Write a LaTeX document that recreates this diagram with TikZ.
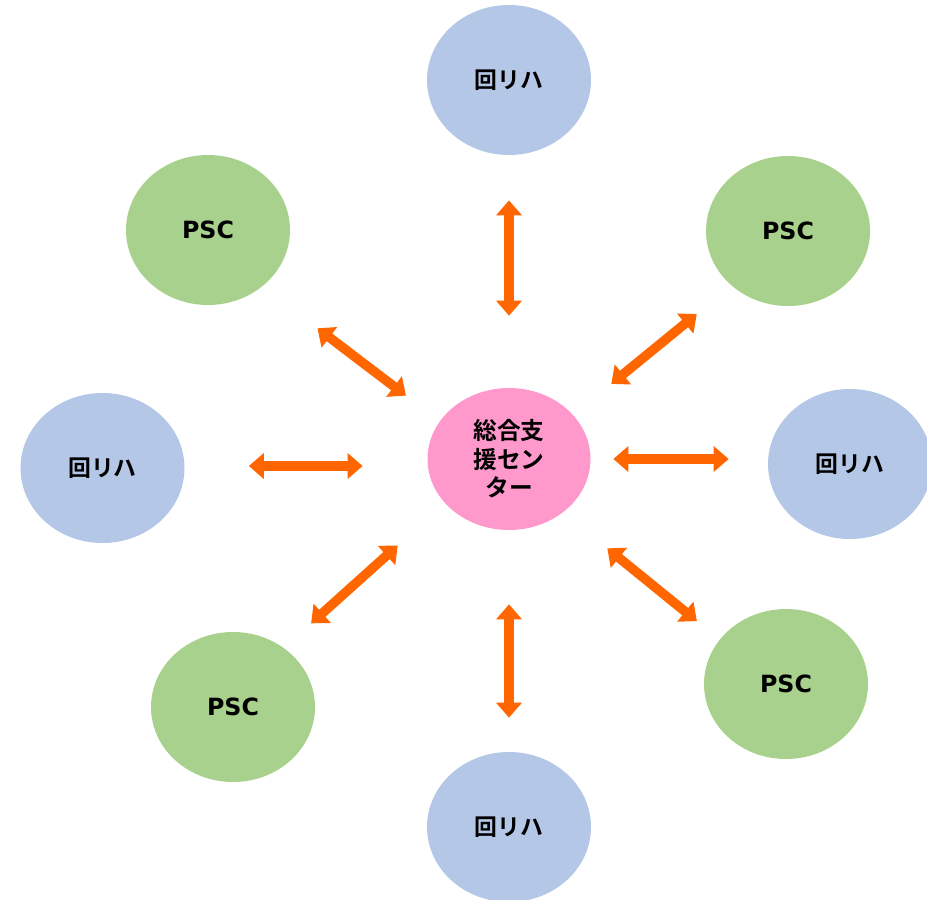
\documentclass[tikz,border=0pt]{standalone}
\usepackage{fontspec}
\setmainfont{Noto Sans CJK JP}[BoldFont={Noto Sans CJK JP Bold}]
\newfontfamily\pscfont{DejaVu Sans}
\usepackage{tikz}
\usetikzlibrary{shapes.geometric, arrows.meta, calc}
\usepackage{xcolor}
\definecolor{hubPink}  {HTML}{FF99CC}
\definecolor{rihaBlue} {HTML}{B4C7E7}
\definecolor{pscGreen} {HTML}{A9D18E}
\definecolor{linkOrange}{HTML}{FF6600}
\tikzset{
  hub/.style  = {ellipse, fill=hubPink, minimum width=3.26cm,
                 minimum height=2.84cm, inner sep=0pt, align=center,
                 font=\fontsize{13.5}{16.2}\selectfont\bfseries},
  riha/.style = {ellipse, fill=rihaBlue, minimum width=3.28cm,
                 minimum height=3cm, inner sep=0pt,
                 font=\fontsize{13}{15}\selectfont\bfseries},
  psc/.style  = {ellipse, fill=pscGreen, minimum width=3.28cm,
                 minimum height=3cm, inner sep=0pt,
                 font=\pscfont\fontsize{13.5}{15}\selectfont\bfseries},
  link/.style = {{Triangle[width=0.5cm 0, length=0.3cm 0]}-{Triangle[width=0.5cm 0, length=0.3cm 0]},
                 line width=0.19cm, color=linkOrange},
}
\begin{document}
\begin{tikzpicture}
  \useasboundingbox (0,0) rectangle (18.54,-17.98);

  \node[hub] (center) at (10.18,-9.18) {総合支\\援セン\\ター};

  \node[riha] (rihaN) at (10.18,-1.6)   {回リハ};
  \node[riha] (rihaW) at (2.05,-9.36)   {回リハ};
  \node[riha] (rihaE) at (17.0,-9.28)   {回リハ};
  \node[riha] (rihaS) at (10.18,-16.54) {回リハ};

  \node[psc] (pscNW) at (4.16,-4.6)   {PSC};
  \node[psc] (pscNE) at (15.76,-4.62) {PSC};
  \node[psc] (pscSW) at (4.66,-14.14) {PSC};
  \node[psc] (pscSE) at (15.72,-13.68) {PSC};

  % double arrows
  \draw[link, shorten <=1.44cm, shorten >=0.9cm]  (center) -- (rihaN);
  \draw[link, shorten <=1.48cm, shorten >=0.68cm] (center) -- (rihaS);
  \draw[link, shorten <=1.29cm, shorten >=1.28cm,
        transform canvas={yshift=-0.14cm}]
    (center.west) -- (center.west -| rihaW.east);
  \draw[link, shorten <=0.45cm, shorten >=0.78cm]
    (center.east) -- (center.east -| rihaE.west);
  \draw[link, shorten <=1.04cm, shorten >=1.16cm,
        transform canvas={yshift=-0.3cm}]  (center) -- (pscNW);
  \draw[link, shorten <=1.1cm, shorten >=0.77cm,
        transform canvas={yshift=-0.17cm}] (center) -- (pscNE);
  \draw[link, shorten <=1.46cm, shorten >=0.52cm,
        transform canvas={yshift=0.27cm}]  (center) -- (pscSW);
  \draw[link, shorten <=0.99cm, shorten >=0.71cm,
        transform canvas={yshift=-0.19cm}] (center) -- (pscSE);
\end{tikzpicture}
\end{document}
